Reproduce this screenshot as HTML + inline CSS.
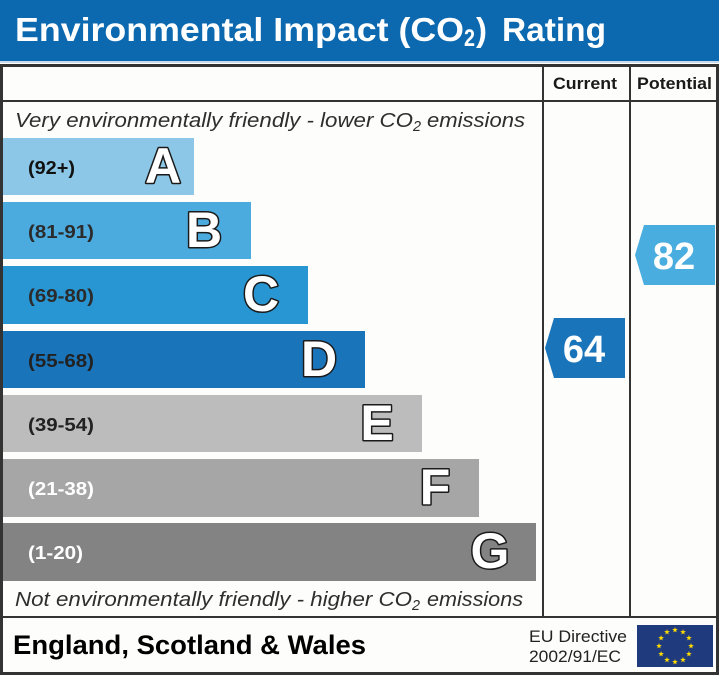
<!DOCTYPE html>
<html>
<head>
<meta charset="utf-8">
<style>
html,body{margin:0;padding:0;background:#fdfdfb;}
svg{display:block;}
text{font-family:"Liberation Sans",Arial,sans-serif;}
</style>
</head>
<body>
<svg width="719" height="675" viewBox="0 0 719 675" xmlns="http://www.w3.org/2000/svg">
<defs>
<polygon id="st" points="0,-3 0.705,-0.971 2.853,-0.927 1.141,0.371 1.763,2.427 0,1.2 -1.763,2.427 -1.141,0.371 -2.853,-0.927 -0.705,-0.971" fill="#ffdd00"/>
</defs>
<rect x="0" y="0" width="719" height="675" fill="#fdfdfb"/>
<!-- header -->
<rect x="0" y="0" width="719" height="61" fill="#0c69b0"/>
<rect x="0" y="61" width="719" height="2" fill="#c9dced"/>
<text x="15" y="41" font-size="33" font-weight="bold" fill="#fff" textLength="449" lengthAdjust="spacingAndGlyphs">Environmental Impact (CO</text>
<text x="464" y="46" font-size="24" font-weight="bold" fill="#fff" textLength="11" lengthAdjust="spacingAndGlyphs">2</text>
<text x="476" y="41" font-size="33" font-weight="bold" fill="#fff">)</text>
<text x="502" y="41" font-size="33" font-weight="bold" fill="#fff" textLength="104" lengthAdjust="spacingAndGlyphs">Rating</text>

<!-- bars -->
<rect x="3" y="138" width="191" height="57" fill="#8cc7e7"/>
<rect x="3" y="202" width="248" height="57" fill="#4babde"/>
<rect x="3" y="266" width="305" height="58" fill="#2896d2"/>
<rect x="3" y="331" width="362" height="57" fill="#1a74ba"/>
<rect x="3" y="395" width="419" height="57" fill="#bcbcbc"/>
<rect x="3" y="459" width="476" height="58" fill="#a6a6a6"/>
<rect x="3" y="523" width="533" height="58" fill="#838383"/>

<g font-size="18" font-weight="bold">
<text x="28" y="174" fill="#111" textLength="47" lengthAdjust="spacingAndGlyphs">(92+)</text>
<text x="28" y="238" fill="#2b2b2b" textLength="66" lengthAdjust="spacingAndGlyphs">(81-91)</text>
<text x="28" y="302" fill="#2b2b2b" textLength="66" lengthAdjust="spacingAndGlyphs">(69-80)</text>
<text x="28" y="367" fill="#222" textLength="66" lengthAdjust="spacingAndGlyphs">(55-68)</text>
<text x="28" y="431" fill="#222" textLength="66" lengthAdjust="spacingAndGlyphs">(39-54)</text>
<text x="28" y="495" fill="#fff" textLength="66" lengthAdjust="spacingAndGlyphs">(21-38)</text>
<text x="28" y="559" fill="#fff" textLength="55" lengthAdjust="spacingAndGlyphs">(1-20)</text>
</g>

<g font-size="50" font-weight="bold" fill="#fff" stroke="#1a1a1a" stroke-width="3" paint-order="stroke" text-anchor="middle" stroke-linejoin="round">
<text x="163" y="183">A</text>
<text x="204" y="247">B</text>
<text x="261" y="311">C</text>
<text x="319" y="376">D</text>
<text x="377" y="440">E</text>
<text x="435" y="504">F</text>
<text x="490" y="568">G</text>
</g>

<!-- italic lines -->
<g font-size="20" font-style="italic" fill="#2e2e2e">
<text x="15" y="127" textLength="398" lengthAdjust="spacingAndGlyphs">Very environmentally friendly - lower CO</text>
<text x="413" y="131" font-size="15" textLength="8" lengthAdjust="spacingAndGlyphs">2</text>
<text x="427" y="127" textLength="98" lengthAdjust="spacingAndGlyphs">emissions</text>
<text x="15" y="606" textLength="397" lengthAdjust="spacingAndGlyphs">Not environmentally friendly - higher CO</text>
<text x="412" y="610" font-size="15" textLength="8" lengthAdjust="spacingAndGlyphs">2</text>
<text x="427" y="606" textLength="96" lengthAdjust="spacingAndGlyphs">emissions</text>
</g>

<!-- arrows -->
<polygon points="554,318 625,318 625,378 554,378 545,348" fill="#1a74ba"/>
<text x="584" y="362" font-size="38" font-weight="bold" fill="#fff" text-anchor="middle">64</text>
<polygon points="644,225 715,225 715,285 644,285 635,255" fill="#4aaddf"/>
<text x="674" y="269" font-size="38" font-weight="bold" fill="#fff" text-anchor="middle">82</text>

<!-- table lines -->
<g fill="#333">
<rect x="0" y="64" width="719" height="3"/>
<rect x="0" y="64" width="3" height="611"/>
<rect x="716" y="64" width="3" height="611"/>
<rect x="0" y="672" width="719" height="3"/>
<rect x="542" y="64" width="2" height="553"/>
<rect x="629" y="64" width="2" height="553"/>
<rect x="0" y="100" width="719" height="2"/>
<rect x="0" y="616" width="719" height="2"/>
</g>

<text x="553" y="89" font-size="16.5" font-weight="bold" fill="#1a1a1a" textLength="64" lengthAdjust="spacingAndGlyphs">Current</text>
<text x="637" y="89" font-size="16.5" font-weight="bold" fill="#1a1a1a" textLength="75" lengthAdjust="spacingAndGlyphs">Potential</text>

<!-- footer -->
<text x="13" y="654" font-size="27" font-weight="bold" fill="#000" textLength="353" lengthAdjust="spacingAndGlyphs">England, Scotland &amp; Wales</text>
<text x="529" y="642" font-size="17" fill="#222" textLength="98" lengthAdjust="spacingAndGlyphs">EU Directive</text>
<text x="529" y="662" font-size="17" fill="#222" textLength="92" lengthAdjust="spacingAndGlyphs">2002/91/EC</text>
<rect x="637" y="625" width="76" height="42" fill="#1f3b7d"/>
<use href="#st" x="675" y="630"/>
<use href="#st" x="683" y="632.1"/>
<use href="#st" x="688.9" y="638"/>
<use href="#st" x="691" y="646"/>
<use href="#st" x="688.9" y="654"/>
<use href="#st" x="683" y="659.9"/>
<use href="#st" x="675" y="662"/>
<use href="#st" x="667" y="659.9"/>
<use href="#st" x="661.1" y="654"/>
<use href="#st" x="659" y="646"/>
<use href="#st" x="661.1" y="638"/>
<use href="#st" x="667" y="632.1"/>
</svg>
</body>
</html>
